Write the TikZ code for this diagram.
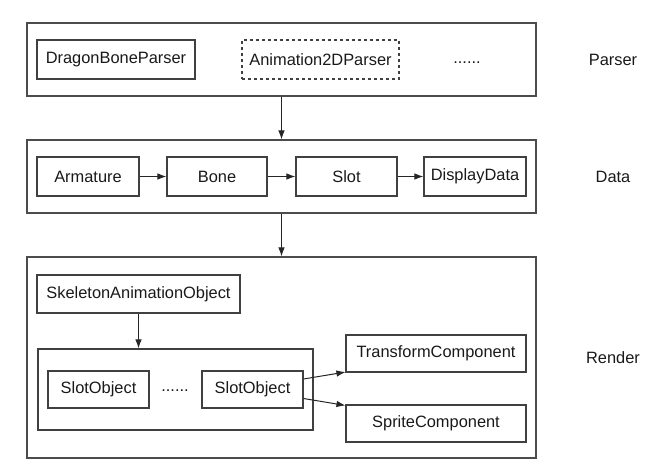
\documentclass[tikz,border=0pt]{standalone}
\usepackage{fontspec}
\setmainfont{Liberation Sans}
\usetikzlibrary{arrows.meta}
\begin{document}
\begin{tikzpicture}[x=1pt, y=-1pt,
        layerbox/.style={draw=black!70, line width=1.1pt, inner sep=0pt, minimum width=509pt, minimum height=73pt},
        item/.style={draw=black!75, line width=1.1pt, inner sep=0pt, minimum height=39pt, text=black!90, font=\fontsize{16.4}{19}\selectfont},
        layername/.style={text=black!90, font=\fontsize{16.4}{19}\selectfont},
        link/.style={draw=black!85, line width=1pt, -{Latex[length=9pt,width=6.5pt]}}]
    \useasboundingbox (0,0) rectangle (668,474);
    % layers
    \node[layerbox] (parser) at (281.5,59.5) {};
    \node[layerbox] (data) at (281.5,176.5) {};
    \node[layerbox, minimum height=201pt] (render) at (281.5,357.5) {};
    \node[layername] (parserName) at (613,60) {Parser};
    \node[layername] (dataName) at (613,177) {Data};
    \node[layername] (renderName) at (613,358) {Render};
    % parser
    \node[item, minimum width=158pt] (dragonBone) at (116,59.5) {DragonBoneParser};
    \node[item, minimum width=157pt, dashed] (anim2D) at (320.5,59.5) {Animation2DParser};
    \node[layername] (parserMore) at (467,62.5) {......};
    % data
    \node[item, minimum width=102pt] (armature) at (88,176.5) {Armature};
    \node[item, minimum width=100pt] (bone) at (217,176.5) {Bone};
    \node[item, minimum width=101pt] (slot) at (346.5,176.5) {Slot};
    \node[item, minimum width=102pt] (displayData) at (475,176.5) {DisplayData};
    % render
    \node[item, minimum width=203pt, minimum height=38pt] (skeleton) at (138.5,294) {SkeletonAnimationObject};
    \node[item, minimum width=275pt, minimum height=81pt] (slotGroup) at (175.5,389.5) {};
    \node[item, minimum width=101pt, minimum height=37pt] (slotObjA) at (98.5,389.5) {SlotObject};
    \node[layername] (slotMore) at (175,390.5) {......};
    \node[item, minimum width=101pt, minimum height=37pt] (slotObjB) at (252.5,389.5) {SlotObject};
    \node[item, minimum width=180pt, minimum height=37pt] (transform) at (436,353.5) {TransformComponent};
    \node[item, minimum width=180pt, minimum height=37pt] (sprite) at (436,423.5) {SpriteComponent};
    % links
    \draw[link] (parser) -- (data);
    \draw[link] (data) -- (render);
    \draw[link] (armature) -- (bone);
    \draw[link] (bone) -- (slot);
    \draw[link] (slot) -- (displayData);
    \draw[link] (skeleton.south) -- (skeleton.south |- slotGroup.north);
    \draw[link] ([yshift=10.5pt]slotObjB.east) -- ([yshift=0.5pt]transform.south west);
    \draw[link] ([yshift=-9pt]slotObjB.east) -- ([yshift=-1pt]sprite.north west);
\end{tikzpicture}
\end{document}
